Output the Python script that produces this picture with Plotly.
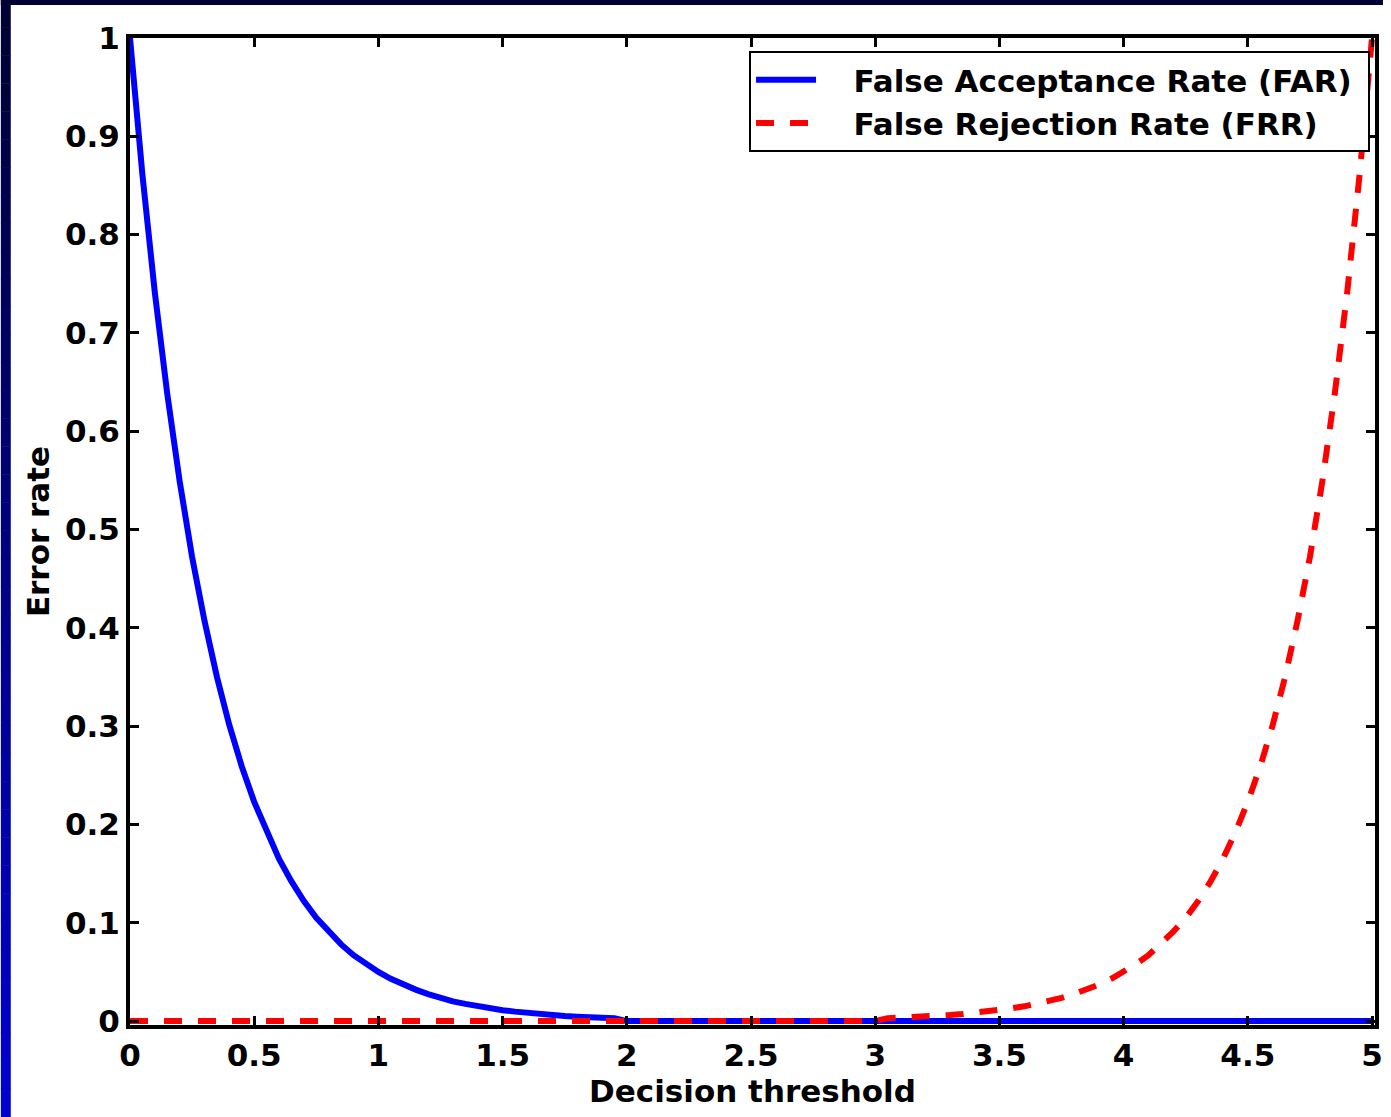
import plotly.graph_objects as go

# ---- data ----
far_threshold = [0.00, 0.05, 0.10, 0.15, 0.20, 0.25, 0.30, 0.35, 0.40, 0.45,
                 0.50, 0.55, 0.60, 0.65, 0.70, 0.75, 0.80, 0.85, 0.90, 0.95,
                 1.00, 1.05, 1.10, 1.15, 1.20, 1.25, 1.30, 1.35, 1.40, 1.45,
                 1.50, 1.55, 1.60, 1.65, 1.70, 1.75, 1.80, 1.85, 1.90, 1.95,
                 2.00, 5.00]
far_values = [1.000, 0.861, 0.741, 0.638, 0.549, 0.472, 0.407, 0.350, 0.301, 0.259,
              0.223, 0.192, 0.165, 0.142, 0.122, 0.105, 0.091, 0.078, 0.067, 0.058,
              0.050, 0.043, 0.037, 0.032, 0.0275, 0.0235, 0.020, 0.0175, 0.015, 0.013,
              0.011, 0.0096, 0.0082, 0.0071, 0.0061, 0.0052, 0.0045, 0.0039, 0.0033, 0.0029,
              0.0, 0.0]

frr_threshold = [0.00, 3.00, 3.05, 3.10, 3.15, 3.20, 3.25, 3.30, 3.35, 3.40, 3.45,
                 3.50, 3.55, 3.60, 3.65, 3.70, 3.75, 3.80, 3.85, 3.90, 3.95,
                 4.00, 4.05, 4.10, 4.15, 4.20, 4.25, 4.30, 4.35, 4.40, 4.45,
                 4.50, 4.55, 4.60, 4.65, 4.70, 4.75, 4.80, 4.85, 4.90, 4.95,
                 5.00]
frr_values = [0.0, 0.0, 0.0029, 0.0033, 0.0039, 0.0045, 0.0052, 0.0061, 0.0071, 0.0082, 0.0096,
              0.011, 0.013, 0.015, 0.0175, 0.020, 0.0235, 0.0275, 0.032, 0.037, 0.043,
              0.050, 0.058, 0.067, 0.078, 0.091, 0.105, 0.122, 0.142, 0.165, 0.192,
              0.223, 0.259, 0.301, 0.350, 0.407, 0.472, 0.549, 0.638, 0.741, 0.861,
              1.000]

x_tick_vals = [0, 0.5, 1, 1.5, 2, 2.5, 3, 3.5, 4, 4.5, 5]
x_tick_text = ["0", "0.5", "1", "1.5", "2", "2.5", "3", "3.5", "4", "4.5", "5"]
y_tick_vals = [0, 0.1, 0.2, 0.3, 0.4, 0.5, 0.6, 0.7, 0.8, 0.9, 1]
y_tick_text = ["0", "0.1", "0.2", "0.3", "0.4", "0.5", "0.6", "0.7", "0.8", "0.9", "1"]

series_names = ["False Acceptance Rate (FAR)", "False Rejection Rate (FRR)"]

# ---- figure ----
W, H = 1391, 1117
ML, MR, MT, MB = 130, 8, 38, 92
FONT = dict(family="DejaVu Sans, Liberation Sans, Arial, sans-serif", size=31,
            color="black", weight=700)

NB = "\u00a0"
fig = go.Figure()
fig.add_trace(go.Scatter(x=far_threshold, y=far_values, mode="lines",
                         name=NB * 3 + series_names[0] + NB,
                         line=dict(color="#0000ff", width=6)))
fig.add_trace(go.Scatter(x=frr_threshold, y=frr_values, mode="lines",
                         name=NB * 3 + series_names[1] + NB,
                         line=dict(color="#ff0000", width=6, dash="18px,16px")))

axis_common = dict(showline=True, linecolor="black", linewidth=4, mirror="ticks",
                   ticks="inside", ticklen=9, tickwidth=3, tickcolor="black",
                   showgrid=False, zeroline=False, tickfont=FONT)

fig.update_xaxes(range=[0, 5.012], tickvals=x_tick_vals, ticktext=x_tick_text,
                 title=dict(text="Decision threshold", font=FONT, standoff=9),
                 **axis_common)
fig.update_yaxes(range=[-0.004, 1.0], tickvals=y_tick_vals, ticktext=y_tick_text,
                 title=dict(text="Error rate", font=FONT, standoff=7),
                 **axis_common)

# background frame: dark-blue gradient band on the left, dark band on top
pw = W - ML - MR
ph = H - MT - MB
def px_to_paper_x(p):
    return (p - ML) / pw
def px_to_paper_y(p):
    return (H - MB - p) / ph

shapes = []
n = 40
top_rgb = (0, 0, 50)
bot_rgb = (0, 0, 210)
for i in range(n):
    y0p = i * H / n
    y1p = (i + 1) * H / n
    t = (i + 0.5) / n
    c = tuple(int(round(a + (b - a) * t)) for a, b in zip(top_rgb, bot_rgb))
    shapes.append(dict(type="rect", xref="paper", yref="paper", layer="below",
                       x0=px_to_paper_x(0), x1=px_to_paper_x(10),
                       y0=px_to_paper_y(y1p), y1=px_to_paper_y(y0p) + 0.0005,
                       fillcolor="rgb(%d,%d,%d)" % c, line=dict(width=0)))
shapes.append(dict(type="rect", xref="paper", yref="paper", layer="below",
                   x0=px_to_paper_x(0), x1=px_to_paper_x(W),
                   y0=px_to_paper_y(5), y1=px_to_paper_y(0),
                   fillcolor="rgb(0,0,50)", line=dict(width=0)))

fig.update_layout(
    width=W, height=H,
    margin=dict(l=ML, r=MR, t=MT, b=MB, pad=0),
    paper_bgcolor="white", plot_bgcolor="white",
    font=FONT,
    shapes=shapes,
    legend=dict(x=px_to_paper_x(1378), y=px_to_paper_y(51),
                xanchor="right", yanchor="top",
                bgcolor="white", bordercolor="black", borderwidth=2,
                font=FONT, itemwidth=60, tracegroupgap=0),
    showlegend=True,
)

fig.write_html("out.html")
